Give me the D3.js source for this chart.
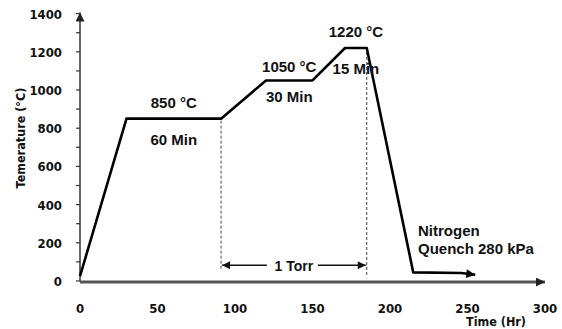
<!DOCTYPE html>
<html>
<head>
<meta charset="utf-8">
<script src="https://cdn.jsdelivr.net/npm/d3@7"></script>
<style>
  body { margin: 0; background: #fff; }
  svg text { font-family: "Liberation Sans", Arial, sans-serif; font-weight: bold; fill: #111; }
  .tick-lab { font-family: "DejaVu Sans Condensed", "DejaVu Sans", sans-serif; font-size: 13px; }
</style>
</head>
<body>
<div id="chart"></div>
<script>
// furnace profile
const profileTime = [0, 30, 91, 120, 150, 171, 185, 215, 246, 255];
const profileTemp = [25, 850, 850, 1050, 1050, 1220, 1220, 45, 42, 33];

const timeTicks = [0, 50, 100, 150, 200, 250, 300];
const tempTicks = [0, 200, 400, 600, 800, 1000, 1200, 1400];
const tempMinor = [100, 300, 500, 700, 900, 1100, 1300];

// hold steps: index of the segment start in the profile, label texts
const holdStart = [1, 3, 5];
const holdTempLabels = ["850 °C", "1050 °C", "1220 °C"];
const holdTimeLabels = ["60 Min", "30 Min", "15 Min"];

const vacuumFrom = 91, vacuumTo = 185, vacuumLevel = 83;
const vacuumLabel = "1 Torr";
const quenchLabel = ["Nitrogen", "Quench 280 kPa"];

var width = 562, height = 329;
var x = d3.scaleLinear().domain([0, 300]).range([80, 545]);
var y = d3.scaleLinear().domain([0, 1400]).range([281, 13.6]);

var svg = d3.select("#chart").append("svg")
  .attr("width", width).attr("height", height);

var defs = svg.append("defs");
function arrowMarker(id, color, w, h) {
  defs.append("marker")
    .attr("id", id)
    .attr("viewBox", "0 0 10 10")
    .attr("refX", 10).attr("refY", 5)
    .attr("markerUnits", "userSpaceOnUse")
    .attr("markerWidth", w).attr("markerHeight", h)
    .attr("orient", "auto-start-reverse")
    .append("path").attr("d", "M0,0L10,5L0,10z").attr("fill", color);
}
arrowMarker("ax", "#222", 11, 9);
arrowMarker("ln", "#000", 11, 9);
arrowMarker("sm", "#111", 10, 8);

// y axis
var yAxis = svg.append("g").attr("transform", "translate(" + x(0) + ",0)");
yAxis.append("line")
  .attr("y1", y(0)).attr("y2", y(1400) - 1)
  .attr("stroke", "#333").attr("stroke-width", 1.5)
  .attr("marker-end", "url(#ax)");
yAxis.selectAll(".tk").data(tempTicks.concat(tempMinor)).enter().append("line")
  .attr("x1", -4).attr("x2", 0)
  .attr("y1", (d) => y(d)).attr("y2", (d) => y(d))
  .attr("stroke", "#333").attr("stroke-width", 1.2);
yAxis.selectAll(".lab").data(tempTicks).enter().append("text")
  .attr("class", "tick-lab")
  .attr("x", -18).attr("y", (d) => y(d) + 5)
  .attr("text-anchor", "end")
  .text((d) => d);

// x axis
var xAxis = svg.append("g");
xAxis.append("line")
  .attr("x1", x(0)).attr("x2", x(300))
  .attr("y1", y(0) + 1).attr("y2", y(0) + 1)
  .attr("stroke", "#555").attr("stroke-width", 3)
  .attr("marker-end", "url(#ax)");
xAxis.selectAll(".lab").data(timeTicks).enter().append("text")
  .attr("class", "tick-lab")
  .attr("x", (d) => x(d)).attr("y", 313)
  .attr("text-anchor", "middle")
  .text((d) => d);

svg.append("text").attr("class", "tick-lab")
  .attr("x", 496).attr("y", 326)
  .attr("text-anchor", "middle")
  .style("font-size", "12.5px")
  .text("Time (Hr)");

svg.append("text").attr("class", "tick-lab")
  .attr("transform", "translate(25,138) rotate(-90)")
  .attr("text-anchor", "middle")
  .style("font-size", "12.5px")
  .text("Temerature (°C)");

// vacuum dashed limits
svg.append("line")
  .attr("x1", x(vacuumFrom)).attr("x2", x(vacuumFrom))
  .attr("y1", y(850) + 2).attr("y2", y(55))
  .attr("stroke", "#444").attr("stroke-width", 1).attr("stroke-dasharray", "3,2");
svg.append("line")
  .attr("x1", x(vacuumTo)).attr("x2", x(vacuumTo))
  .attr("y1", y(1220) + 4).attr("y2", y(20))
  .attr("stroke", "#444").attr("stroke-width", 1).attr("stroke-dasharray", "3,2");

var tMid = x((vacuumFrom + vacuumTo) / 2);
svg.append("text")
  .attr("x", tMid).attr("y", y(vacuumLevel) + 6)
  .attr("text-anchor", "middle")
  .style("font-size", "14px")
  .text(vacuumLabel);
svg.append("line")
  .attr("x1", tMid - 27).attr("x2", x(vacuumFrom) + 1)
  .attr("y1", y(vacuumLevel)).attr("y2", y(vacuumLevel))
  .attr("stroke", "#111").attr("stroke-width", 1.5)
  .attr("marker-end", "url(#sm)");
svg.append("line")
  .attr("x1", tMid + 24).attr("x2", x(vacuumTo) - 1)
  .attr("y1", y(vacuumLevel)).attr("y2", y(vacuumLevel))
  .attr("stroke", "#111").attr("stroke-width", 1.5)
  .attr("marker-end", "url(#sm)");

// the profile
var profile = profileTime.map(function (t, i) { return [t, profileTemp[i]]; });
svg.append("path")
  .datum(profile)
  .attr("d", d3.line().x((d) => x(d[0])).y((d) => y(d[1])))
  .attr("fill", "none")
  .attr("stroke", "#000")
  .attr("stroke-width", 2.6)
  .attr("stroke-linejoin", "round")
  .attr("marker-end", "url(#ln)");

// hold labels
holdStart.forEach(function (k, i) {
  var cx = x((profileTime[k] + profileTime[k + 1]) / 2);
  var cy = y(profileTemp[k]);
  svg.append("text")
    .attr("x", cx).attr("y", cy - (i == 1 ? 8 : 11))
    .attr("text-anchor", "middle")
    .style("font-size", "15px")
    .text(holdTempLabels[i]);
  svg.append("text")
    .attr("x", cx).attr("y", cy + (i == 1 ? 22 : 26))
    .attr("text-anchor", "middle")
    .style("font-size", "15px")
    .text(holdTimeLabels[i]);
});

// quench label
svg.selectAll(".q").data(quenchLabel).enter().append("text")
  .attr("x", 418)
  .attr("y", (d, i) => 236 + i * 18)
  .style("font-size", "15px")
  .text((d) => d);
</script>
</body>
</html>
